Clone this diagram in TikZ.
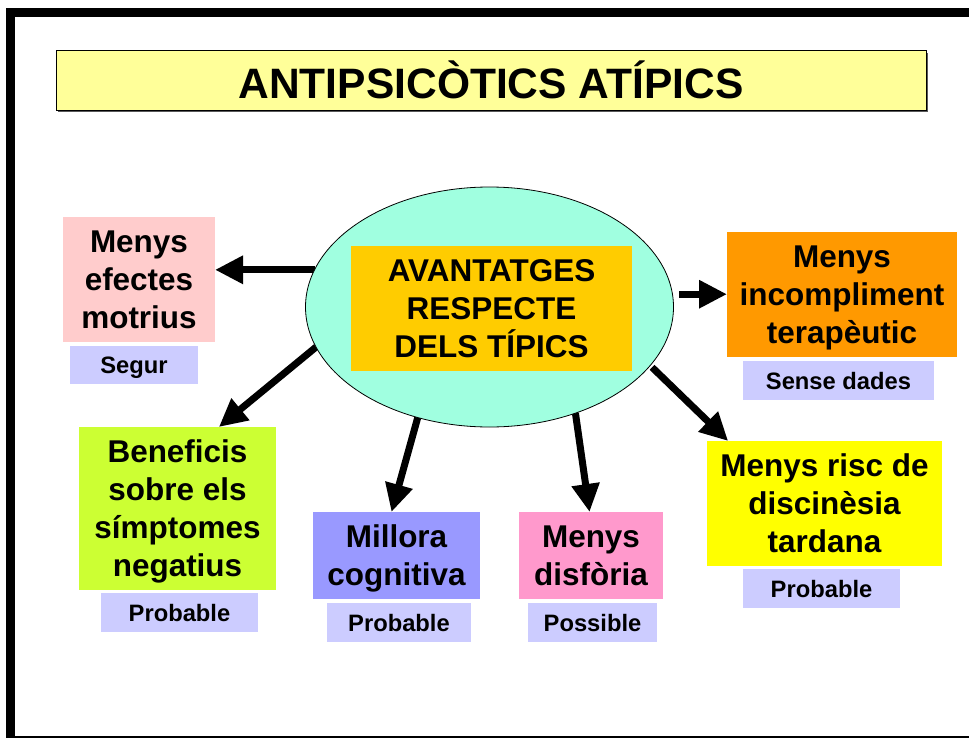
\documentclass[tikz,border=0pt]{standalone}
\usepackage{fontspec}
\setmainfont{Liberation Sans}
\usetikzlibrary{arrows.meta,calc,shapes.geometric}
\definecolor{titlefill}{HTML}{FFFF99}
\definecolor{ellfill}{HTML}{A0FFE0}
\definecolor{centerfill}{HTML}{FFCC00}
\definecolor{pinkfill}{HTML}{FFCCCC}
\definecolor{orangefill}{HTML}{FF9900}
\definecolor{limefill}{HTML}{CCFF33}
\definecolor{bluefill}{HTML}{9999FF}
\definecolor{rosefill}{HTML}{FF99CC}
\definecolor{yellowfill}{HTML}{FFFF00}
\definecolor{labelfill}{HTML}{CCCCFF}
\tikzset{
  bx/.style 2 args={rectangle, inner sep=0pt, outer sep=0pt, align=center,
    minimum width=#1*0.75pt, minimum height=#2*0.75pt},
  mainbox/.style={font=\fontsize{23.6}{28.5}\selectfont\bfseries, text depth=0pt},
  lblbox/.style={fill=labelfill, font=\fontsize{17.8}{21}\selectfont\bfseries, text depth=0pt},
  arr/.style={line width=5.25pt, -{Triangle[length=21pt,width=20pt]}},
  frame/.style={fill=black, draw=none}
}
\begin{document}
\begin{tikzpicture}[x=0.75pt,y=-0.75pt]
\useasboundingbox (0,0) rectangle (969,738);
\fill[white] (0,0) rectangle (969,738);
% frame bands
\fill[black] (6,8) rectangle (969,17);
\fill[black] (6,8) rectangle (15,738);
\fill[black] (6,735.5) rectangle (969,738);
% title
\fill[gray!70!black] (58,53) rectangle (928,112);
\node[bx={870}{60}, fill=titlefill, draw=black, line width=0.6pt,
  font=\fontsize{31.9}{36}\selectfont\bfseries] (title) at (491,80) {ANTIPSICÒTICS ATÍPICS};
% reference ellipse for connector anchors
\node[ellipse, minimum width=368*0.75pt, minimum height=240*0.75pt, inner sep=0pt, outer sep=0pt] (ellref) at (489.5,307) {};
% boxes
\node[bx={152}{125}, fill=pinkfill, mainbox] (m1) at (139,279.5) {Menys\\efectes\\motrius};
\node[bx={128}{38}, lblbox] (l1) at (134,365) {Segur};
\node[bx={230}{125}, fill=orangefill, mainbox] (m2) at (842,294.5) {Menys\\incompliment\\terapèutic};
\node[bx={191}{39}, lblbox] (l2) at (838.5,380.5) {Sense dades};
\node[bx={197}{163}, fill=limefill, mainbox] (m3) at (177.5,508.5) {Beneficis\\sobre els\\símptomes\\negatius};
\node[bx={157}{39}, lblbox] (l3) at (179.5,612.5) {Probable};
\node[bx={167}{87}, fill=bluefill, mainbox] (m4) at (396.5,555.5) {Millora\\cognitiva};
\node[bx={144}{39}, lblbox] (l4) at (399,622.5) {Probable};
\node[bx={144}{87}, fill=rosefill, mainbox] (m5) at (591,555.5) {Menys\\disfòria};
\node[bx={129}{39}, lblbox] (l5) at (592.5,622.5) {Possible};
\node[bx={235}{125}, fill=yellowfill, mainbox] (m6) at (824.5,503.5) {Menys risc de\\discinèsia\\tardana};
\node[bx={157}{39}, lblbox] (l6) at (821.5,588.5) {Probable};
% connectors
\draw[arr] (ellref.168) -- (ellref.168 -| m1.east);
\draw[arr, shorten <=5pt] (ellref.4.7) -- (ellref.4.7 -| m2.west);
\draw[arr] (ellref.193.6) -- ($(m3.north west)!0.71!(m3.north east)$);
\draw[arr] (ellref.237.2) -- ($(m4.north west)!0.47!(m4.north east)$);
\draw[arr] (ellref.309) -- ($(m5.north west)!0.49!(m5.north east)$);
\draw[arr, shorten <=2pt] (ellref.340.8) -- ($(m6.north west)!0.09!(m6.north east)$);
% ellipse and centre box
\node[ellipse, draw=black, line width=0.6pt, fill=ellfill, minimum width=368*0.75pt, minimum height=240*0.75pt, inner sep=0pt, outer sep=0pt] (ell) at (ellref) {};
\node[bx={281}{125}, fill=centerfill, mainbox] (centre) at (491.5,308.5) {AVANTATGES\\RESPECTE\\DELS TÍPICS};
\end{tikzpicture}
\end{document}
